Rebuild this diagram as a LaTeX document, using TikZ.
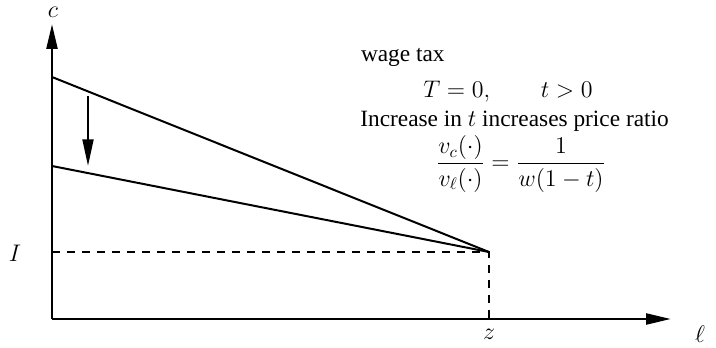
\documentclass[tikz,border=0pt]{standalone}
\usepackage{amsmath}
\usepackage{fontspec}
\setmainfont{Liberation Serif}
\usetikzlibrary{arrows.meta}
\tikzset{
  axisarr/.style   = {-{Triangle[length=15pt,width=6.5pt]},line width=1.7pt},
  shiftarr/.style  = {-{Triangle[length=16pt,width=6.5pt]},line width=1.4pt},
  budget/.style    = {line width=1.2pt},
  guide/.style     = {line width=1.1pt,dash pattern=on 5pt off 4pt},
  lbl/.style       = {font=\fontsize{14}{16}\selectfont,inner sep=1pt}
}
\begin{document}
\begin{tikzpicture}[x=0.6pt,y=-0.6pt]
  \useasboundingbox (0,0) rectangle (716,348);
  % axes
  \coordinate (O)  at (52,319);
  \coordinate (ytip) at (52,24);
  \coordinate (xtip) at (671,319);
  \coordinate (K)  at (489,252);
  \coordinate (A)  at (52,77);
  \coordinate (B)  at (52,166);
  \coordinate (Iy) at (52,252);
  \coordinate (Zx) at (489,319);
  \draw[axisarr] (O) -- (ytip);
  \draw[axisarr] (O) -- (xtip);
  \node[lbl] (c)   at (53,12)   {$c$};
  \node[lbl] (ell) at (700,334) {$\ell$};
  \node[lbl] (z)   at (489,334) {$z$};
  \node[lbl] (I)   at (15,253)  {$I$};
  % budget lines
  \draw[budget] (A) -- (K);
  \draw[budget] (B) -- (K);
  \draw[guide] (Iy) -- (K) -- (Zx);
  \coordinate (s0) at (88,96);
  \coordinate (s1) at (88,166);
  \draw[shiftarr] (s0) -- (s1);
  % text
  \node[lbl,anchor=west] (wt)  at (359,57)  {wage tax};
  \node[lbl] (tax) at (508,92) {$T=0,\qquad t>0$};
  \node[lbl,anchor=west,inner sep=0pt] (inc) at (360,121) {Increase in $t$ increases price ratio};
  \node[lbl,inner sep=0pt] (fr)  at (521,164) {$\dfrac{v_c(\cdot)}{v_\ell(\cdot)}=\dfrac{1}{w(1-t)}$};
\end{tikzpicture}
\end{document}
